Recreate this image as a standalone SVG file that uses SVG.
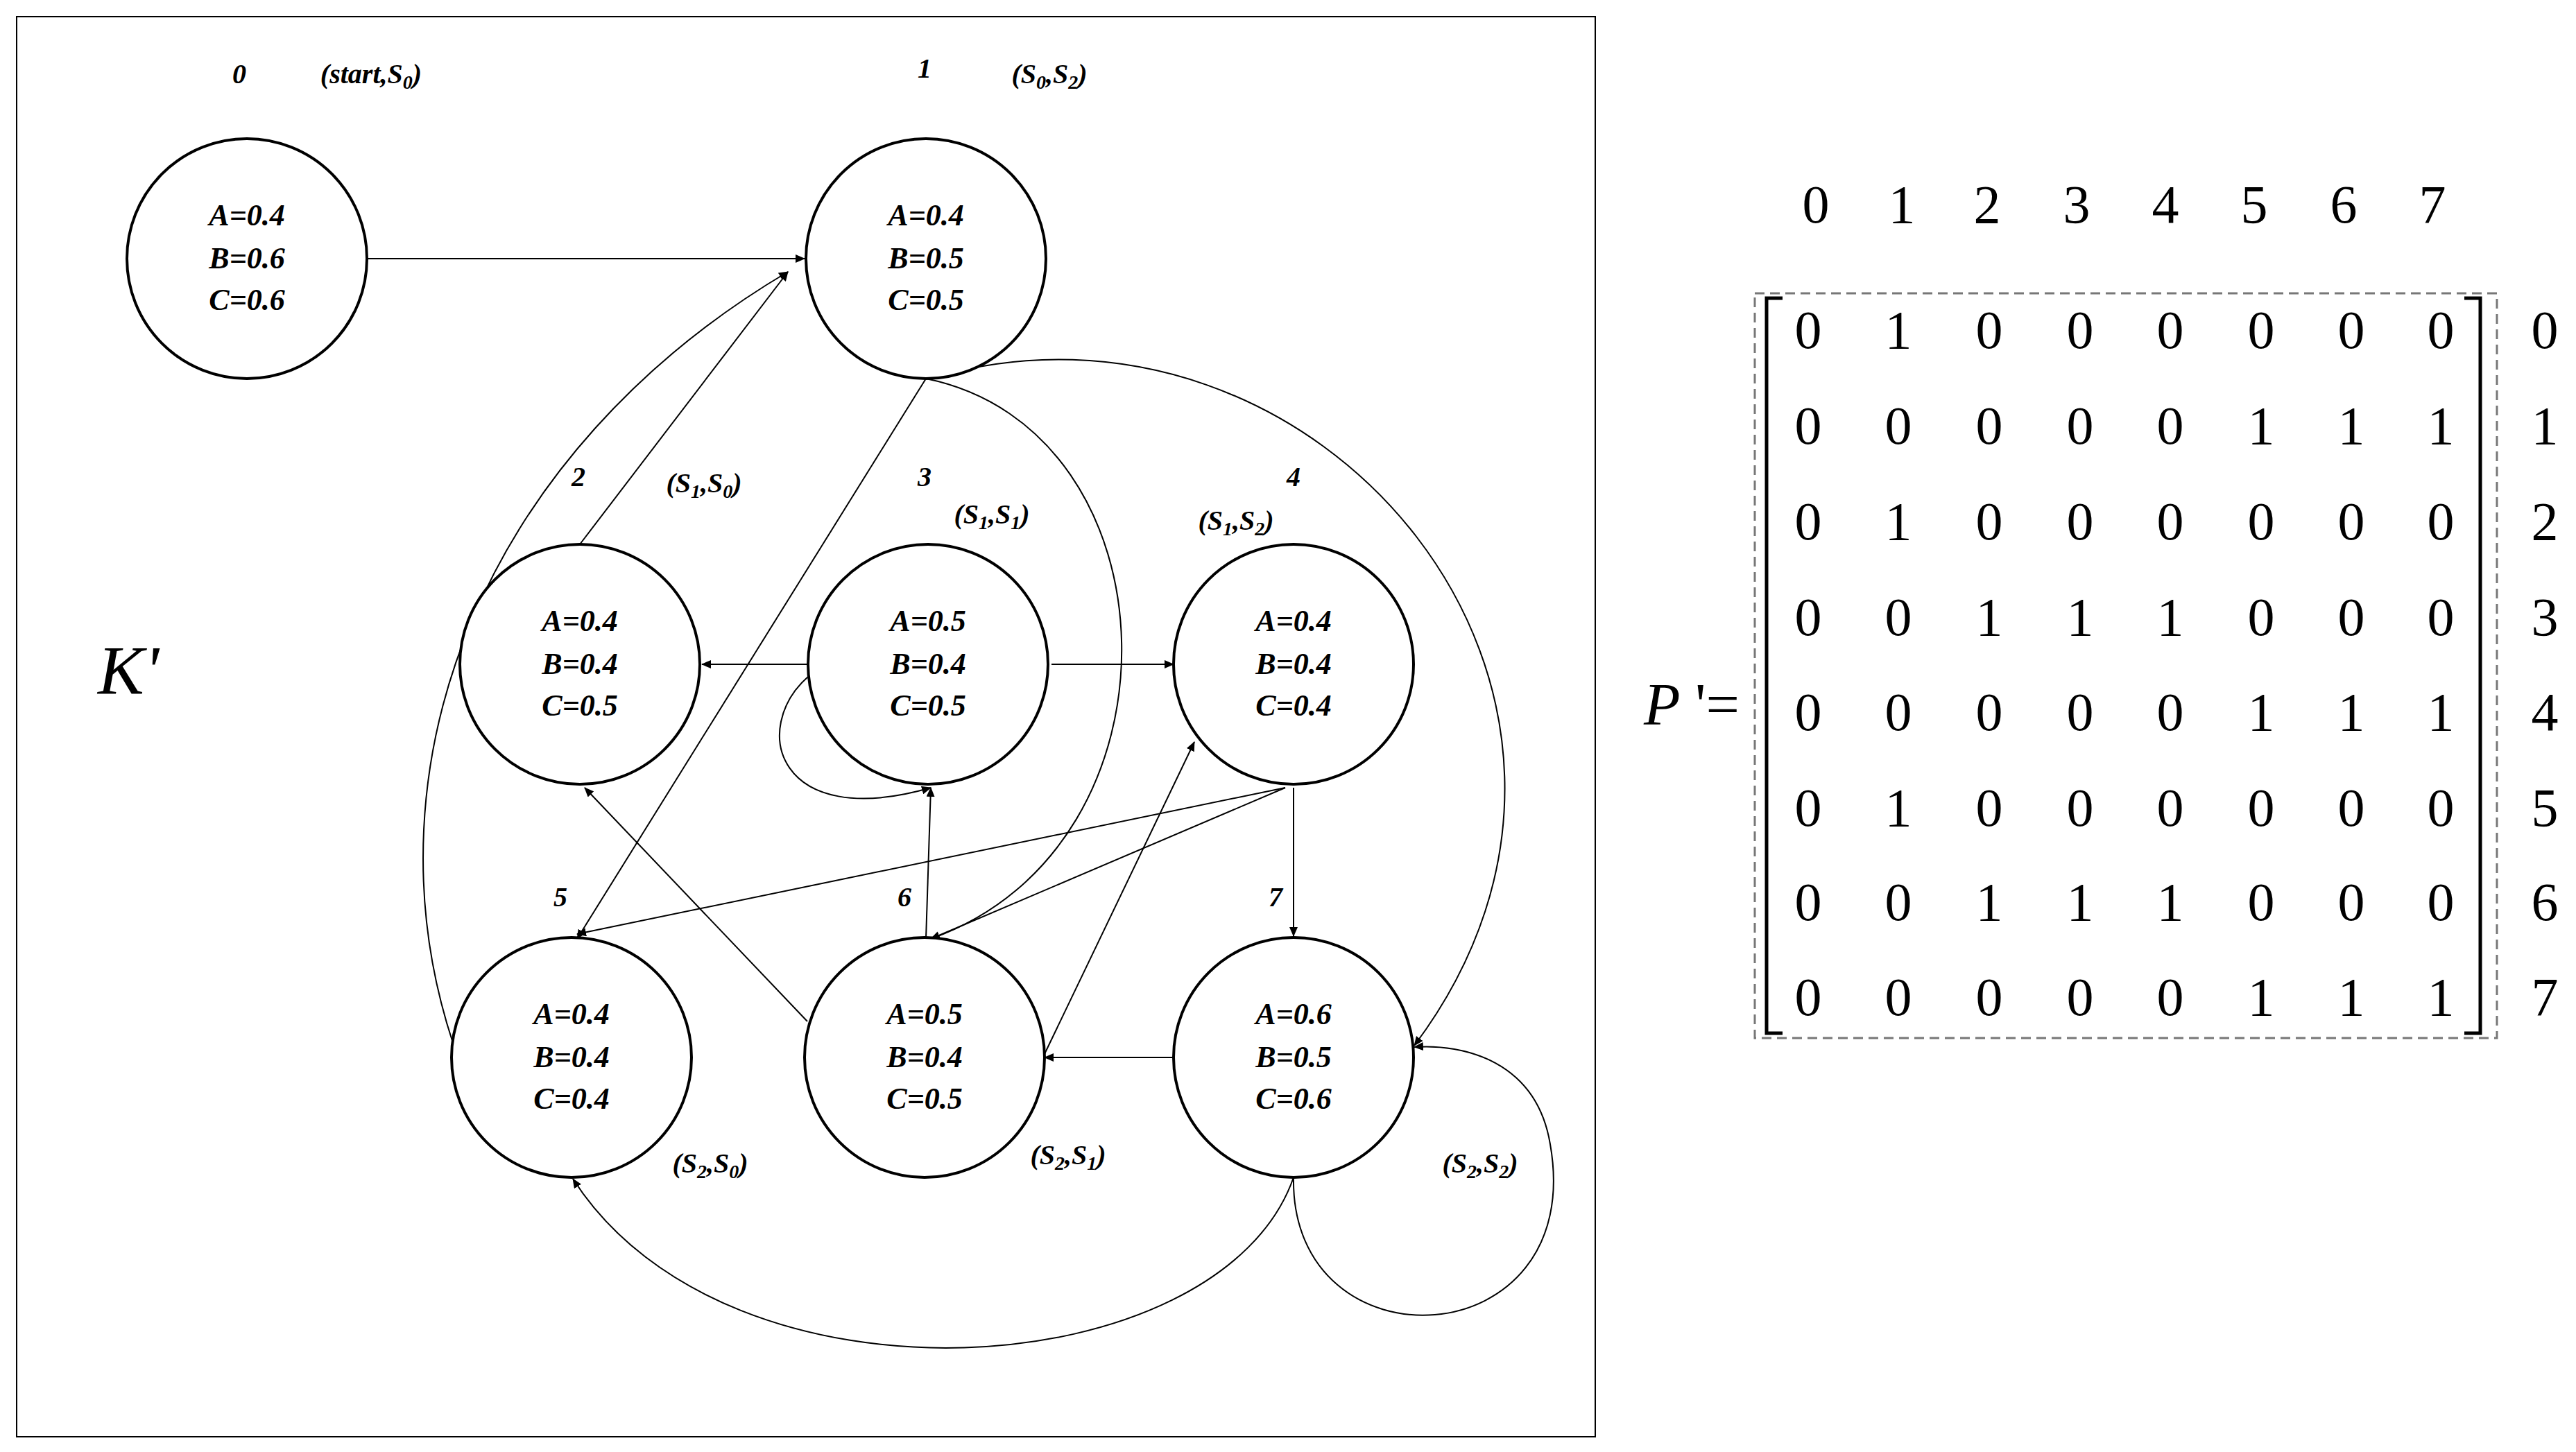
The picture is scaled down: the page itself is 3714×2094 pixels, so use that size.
<svg xmlns="http://www.w3.org/2000/svg" width="3714" height="2094" viewBox="0 0 3714 2094">
<style>
.n{fill:#fff;stroke:#000;stroke-width:4}
.v{font-family:"Liberation Serif",serif;font-weight:bold;font-style:italic;font-size:44px;text-anchor:middle}
.l{font-family:"Liberation Serif",serif;font-weight:bold;font-style:italic;font-size:40px;text-anchor:middle}
.e{fill:none;stroke:#000;stroke-width:2;marker-end:url(#a)}
.m{font-family:"Liberation Serif",serif;font-size:78px;text-anchor:middle}
</style>
<defs><marker id="a" markerWidth="14" markerHeight="12" refX="13" refY="6" orient="auto" markerUnits="userSpaceOnUse"><path d="M0,0L14,6L0,12z"/></marker></defs>
<rect width="3714" height="2094" fill="#fff"/>
<rect x="24" y="24" width="2276" height="2048" fill="none" stroke="#000" stroke-width="2"/>
<g id="connectors">
<path class="e" d="M530,373L1160,373"/>
<path class="e" d="M836,785L1136,392"/>
<path class="e" d="M653,1504C520,1100 700,650 1136,392"/>
<path class="e" d="M1335,546L832,1354"/>
<path class="e" d="M1335,546C1700,620 1720,1220 1342,1354"/>
<path class="e" d="M1340,546C1900,380 2420,1000 2039,1508"/>
<path class="e" d="M1164,958L1012,958"/>
<path class="e" d="M1516,958L1692,958"/>
<path class="e" d="M1166,975C1080,1050 1120,1200 1342,1136"/>
<path class="e" d="M1335,1354L1342,1136"/>
<path class="e" d="M1164,1473L843,1136"/>
<path class="e" d="M1506,1520L1722,1070"/>
<path class="e" d="M1853,1136L832,1347"/>
<path class="e" d="M1853,1136L1342,1354"/>
<path class="e" d="M1865,1136L1865,1350"/>
<path class="e" d="M1692,1525L1506,1525"/>
<path class="e" d="M1865,1698C1760,2000 1050,2050 826,1700"/>
<path class="e" d="M1865,1698C1860,1980 2290,1960 2235,1650C2215,1530 2110,1505 2039,1510"/>
</g>
<g id="n0"><circle class="n" cx="356" cy="373" r="173"/><text class="v" x="356" y="325">A=0.4</text><text class="v" x="356" y="387">B=0.6</text><text class="v" x="356" y="447">C=0.6</text><text class="l" x="345" y="120">0</text><text class="l" x="535" y="120">(start,S<tspan font-size="28" dy="8">0</tspan><tspan dy="-8">)</tspan></text></g>
<g id="n1"><circle class="n" cx="1335" cy="373" r="173"/><text class="v" x="1335" y="325">A=0.4</text><text class="v" x="1335" y="387">B=0.5</text><text class="v" x="1335" y="447">C=0.5</text><text class="l" x="1333" y="112">1</text><text class="l" x="1513" y="120">(S<tspan font-size="28" dy="8">0</tspan><tspan dy="-8">,S</tspan><tspan font-size="28" dy="8">2</tspan><tspan dy="-8">)</tspan></text></g>
<g id="n2"><circle class="n" cx="836" cy="958" r="173"/><text class="v" x="836" y="910">A=0.4</text><text class="v" x="836" y="972">B=0.4</text><text class="v" x="836" y="1032">C=0.5</text><text class="l" x="834" y="701">2</text><text class="l" x="1015" y="710">(S<tspan font-size="28" dy="8">1</tspan><tspan dy="-8">,S</tspan><tspan font-size="28" dy="8">0</tspan><tspan dy="-8">)</tspan></text></g>
<g id="n3"><circle class="n" cx="1338" cy="958" r="173"/><text class="v" x="1338" y="910">A=0.5</text><text class="v" x="1338" y="972">B=0.4</text><text class="v" x="1338" y="1032">C=0.5</text><text class="l" x="1333" y="701">3</text><text class="l" x="1430" y="755">(S<tspan font-size="28" dy="8">1</tspan><tspan dy="-8">,S</tspan><tspan font-size="28" dy="8">1</tspan><tspan dy="-8">)</tspan></text></g>
<g id="n4"><circle class="n" cx="1865" cy="958" r="173"/><text class="v" x="1865" y="910">A=0.4</text><text class="v" x="1865" y="972">B=0.4</text><text class="v" x="1865" y="1032">C=0.4</text><text class="l" x="1865" y="701">4</text><text class="l" x="1782" y="764">(S<tspan font-size="28" dy="8">1</tspan><tspan dy="-8">,S</tspan><tspan font-size="28" dy="8">2</tspan><tspan dy="-8">)</tspan></text></g>
<g id="n5"><circle class="n" cx="824" cy="1525" r="173"/><text class="v" x="824" y="1477">A=0.4</text><text class="v" x="824" y="1539">B=0.4</text><text class="v" x="824" y="1599">C=0.4</text><text class="l" x="808" y="1307">5</text><text class="l" x="1024" y="1691">(S<tspan font-size="28" dy="8">2</tspan><tspan dy="-8">,S</tspan><tspan font-size="28" dy="8">0</tspan><tspan dy="-8">)</tspan></text></g>
<g id="n6"><circle class="n" cx="1333" cy="1525" r="173"/><text class="v" x="1333" y="1477">A=0.5</text><text class="v" x="1333" y="1539">B=0.4</text><text class="v" x="1333" y="1599">C=0.5</text><text class="l" x="1304" y="1307">6</text><text class="l" x="1540" y="1679">(S<tspan font-size="28" dy="8">2</tspan><tspan dy="-8">,S</tspan><tspan font-size="28" dy="8">1</tspan><tspan dy="-8">)</tspan></text></g>
<g id="n7"><circle class="n" cx="1865" cy="1525" r="173"/><text class="v" x="1865" y="1477">A=0.6</text><text class="v" x="1865" y="1539">B=0.5</text><text class="v" x="1865" y="1599">C=0.6</text><text class="l" x="1839" y="1307">7</text><text class="l" x="2134" y="1691">(S<tspan font-size="28" dy="8">2</tspan><tspan dy="-8">,S</tspan><tspan font-size="28" dy="8">2</tspan><tspan dy="-8">)</tspan></text></g>
<text x="185" y="1000" font-family="Liberation Serif,serif" font-style="italic" font-size="100" text-anchor="middle">K'</text>
<g id="matrix">
<text class="m" y="321"><tspan x="2618">0</tspan><tspan x="2742">1</tspan><tspan x="2865">2</tspan><tspan x="2994">3</tspan><tspan x="3122">4</tspan><tspan x="3250">5</tspan><tspan x="3379">6</tspan><tspan x="3507">7</tspan></text>
<rect x="2530" y="423" width="1070" height="1074" fill="none" stroke="#777" stroke-width="3" stroke-dasharray="14,8"/>
<path d="M2570,430H2547V1490H2570M3553,430H3576V1490H3553" fill="none" stroke="#000" stroke-width="5"/>
<g class="m">
<text y="502"><tspan x="2607">0</tspan><tspan x="2737">1</tspan><tspan x="2868">0</tspan><tspan x="2999">0</tspan><tspan x="3129">0</tspan><tspan x="3260">0</tspan><tspan x="3390">0</tspan><tspan x="3519">0</tspan><tspan x="3669">0</tspan></text>
<text y="640"><tspan x="2607">0</tspan><tspan x="2737">0</tspan><tspan x="2868">0</tspan><tspan x="2999">0</tspan><tspan x="3129">0</tspan><tspan x="3260">1</tspan><tspan x="3390">1</tspan><tspan x="3519">1</tspan><tspan x="3669">1</tspan></text>
<text y="778"><tspan x="2607">0</tspan><tspan x="2737">1</tspan><tspan x="2868">0</tspan><tspan x="2999">0</tspan><tspan x="3129">0</tspan><tspan x="3260">0</tspan><tspan x="3390">0</tspan><tspan x="3519">0</tspan><tspan x="3669">2</tspan></text>
<text y="916"><tspan x="2607">0</tspan><tspan x="2737">0</tspan><tspan x="2868">1</tspan><tspan x="2999">1</tspan><tspan x="3129">1</tspan><tspan x="3260">0</tspan><tspan x="3390">0</tspan><tspan x="3519">0</tspan><tspan x="3669">3</tspan></text>
<text y="1053"><tspan x="2607">0</tspan><tspan x="2737">0</tspan><tspan x="2868">0</tspan><tspan x="2999">0</tspan><tspan x="3129">0</tspan><tspan x="3260">1</tspan><tspan x="3390">1</tspan><tspan x="3519">1</tspan><tspan x="3669">4</tspan></text>
<text y="1191"><tspan x="2607">0</tspan><tspan x="2737">1</tspan><tspan x="2868">0</tspan><tspan x="2999">0</tspan><tspan x="3129">0</tspan><tspan x="3260">0</tspan><tspan x="3390">0</tspan><tspan x="3519">0</tspan><tspan x="3669">5</tspan></text>
<text y="1327"><tspan x="2607">0</tspan><tspan x="2737">0</tspan><tspan x="2868">1</tspan><tspan x="2999">1</tspan><tspan x="3129">1</tspan><tspan x="3260">0</tspan><tspan x="3390">0</tspan><tspan x="3519">0</tspan><tspan x="3669">6</tspan></text>
<text y="1464"><tspan x="2607">0</tspan><tspan x="2737">0</tspan><tspan x="2868">0</tspan><tspan x="2999">0</tspan><tspan x="3129">0</tspan><tspan x="3260">1</tspan><tspan x="3390">1</tspan><tspan x="3519">1</tspan><tspan x="3669">7</tspan></text>
</g>
<text x="2370" y="1045" font-family="Liberation Serif,serif" font-size="86"><tspan font-style="italic">P</tspan> '=</text>
</g>
</svg>
